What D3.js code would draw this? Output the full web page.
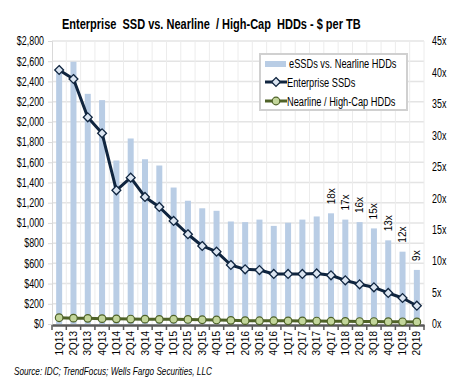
<!DOCTYPE html>
<html><head><meta charset="utf-8">
<script src="https://cdn.jsdelivr.net/npm/d3@7"></script>
<style>
body{margin:0;background:#fff;}
svg{display:block;}
</style></head>
<body>
<svg id="c" width="458" height="384"></svg>
<script>
const quarters = ["1Q13","2Q13","3Q13","4Q13","1Q14","2Q14","3Q14","4Q14","1Q15","2Q15","3Q15","4Q15","1Q16","2Q16","3Q16","4Q16","1Q17","2Q17","3Q17","4Q17","1Q18","2Q18","3Q18","4Q18","1Q19","2Q19"];
const ssd = [2513,2424,2045,1887,1323,1448,1257,1158,1020,888,772,716,584,541,534,495,495,495,500,482,432,393,363,307,257,181];
const hdd = [62,58,56,53,51,49,48,46,47,45,42,40,36,33,32,32,31,30,29,27,26,24,24,23,22,21];
const ratio = [40.5,41.7,36.6,35.6,26.0,29.5,26.2,25.2,21.7,19.6,18.4,18.0,16.3,16.2,16.6,15.6,16.1,16.6,17.1,17.6,16.6,16.2,15.2,13.3,11.5,8.6];
const ratioLabels = ["","","","","","","","","","","","","","","","","","","","18x","17x","16x","15x","13x","12x","9x"];
const leftTicks = [0,200,400,600,800,1000,1200,1400,1600,1800,2000,2200,2400,2600,2800];
const rightTicks = [0,5,10,15,20,25,30,35,40,45];

const svg = d3.select("#c");
const L = 52, R = 424, T = 41, B = 324;
const arial = "'Liberation Sans',Arial,sans-serif";

function squeeze(sel, factor) {
  sel.each(function() {
    const w = this.getComputedTextLength();
    d3.select(this).attr("textLength", w * factor).attr("lengthAdjust", "spacingAndGlyphs");
  });
}

const x = d3.scaleBand().domain(quarters).range([L, R]);
const y = d3.scaleLinear().domain([0, 2800]).range([B, T]);
const y2 = d3.scaleLinear().domain([0, 45]).range([B, T]);

// gridlines
const g = svg.append("g");
g.selectAll("line.h").data(leftTicks.slice(1)).join("line")
  .attr("x1", L).attr("x2", R).attr("y1", d => y(d)).attr("y2", d => y(d))
  .attr("stroke", "#e4e4e4").attr("stroke-width", 1.5);
g.selectAll("line.v").data(quarters.slice(1)).join("line")
  .attr("x1", d => x(d)).attr("x2", d => x(d)).attr("y1", T).attr("y2", B)
  .attr("stroke", "#ececec").attr("stroke-width", 1);
g.append("line").attr("x1", R).attr("x2", R).attr("y1", T).attr("y2", B).attr("stroke", "#ececec");

// bars
const bw = 6;
svg.append("g").selectAll("rect").data(quarters).join("rect")
  .attr("x", d => x(d) + x.bandwidth()/2 - bw/2)
  .attr("width", bw)
  .attr("y", (d,i) => y2(ratio[i]))
  .attr("height", (d,i) => B - y2(ratio[i]))
  .attr("fill", "#b9cde5");

// bar labels
svg.append("g").selectAll("text").data(quarters).join("text")
  .attr("transform", (d,i) => `translate(${x(d)+x.bandwidth()/2+3.5},${y2(ratio[i]) - 9}) rotate(-90)`)
  .attr("font-family", arial).attr("font-size", 10).attr("fill", "#000")
  .text((d,i) => ratioLabels[i]);

// left axis
const ya = d3.axisLeft(y).tickValues(leftTicks).tickSize(4).tickFormat(d => "$" + d3.format(",")(d));
const yag = svg.append("g").attr("transform", `translate(${L},0)`).call(ya);
yag.select(".domain").attr("stroke", "#d9d9d9");
yag.selectAll(".tick line").attr("stroke", "#d9d9d9");
const ylt = yag.selectAll("text").attr("font-family", arial).attr("font-size", 12).attr("fill", "#000").attr("x", -8);
squeeze(ylt, 0.74);

// right axis
const yb = d3.axisRight(y2).tickValues(rightTicks).tickSize(0).tickFormat(d => d + "x");
const ybg = svg.append("g").attr("transform", `translate(${R},0)`).call(yb);
ybg.select(".domain").remove();
const yrt = ybg.selectAll("text").attr("font-family", arial).attr("font-size", 12).attr("fill", "#000").attr("x", 8);
squeeze(yrt, 0.74);

// bottom axis
const xa = d3.axisBottom(x).tickSize(0);
const xag = svg.append("g").attr("transform", `translate(0,${B+1})`).call(xa);
xag.select(".domain").attr("stroke", "#595959").attr("stroke-width", 2.5);
xag.selectAll("text").attr("font-family", arial).attr("font-size", 10).attr("fill", "#000")
  .attr("transform", "rotate(-90)").attr("text-anchor", "end").attr("x", -6).attr("y", 0).attr("dy", "0.35em");
svg.append("g").selectAll("line").data(quarters.concat(["end"])).join("line")
  .attr("x1", d => d === "end" ? R : x(d)).attr("x2", d => d === "end" ? R : x(d))
  .attr("y1", B+1).attr("y2", B+6).attr("stroke", "#595959").attr("stroke-width", 1.5);

// lines
const cx = d => x(d) + x.bandwidth()/2;
const lineSSD = d3.line().x((d,i) => cx(quarters[i])).y(d => y(d));
svg.append("path").datum(ssd).attr("d", lineSSD).attr("fill", "none")
  .attr("stroke", "#10253f").attr("stroke-width", 3).attr("stroke-linejoin", "round");
const diamond = d3.symbol().type(d3.symbolDiamond2).size(50);
svg.append("g").selectAll("path").data(ssd).join("path")
  .attr("d", diamond)
  .attr("transform", (d,i) => `translate(${cx(quarters[i])},${y(d)})`)
  .attr("fill", "#dbe5f1").attr("stroke", "#10253f").attr("stroke-width", 1.3);

const lineHDD = d3.line().x((d,i) => cx(quarters[i])).y(d => y(d));
svg.append("path").datum(hdd).attr("d", lineHDD).attr("fill", "none")
  .attr("stroke", "#4f6228").attr("stroke-width", 3);
svg.append("g").selectAll("circle").data(hdd).join("circle")
  .attr("cx", (d,i) => cx(quarters[i])).attr("cy", d => y(d)).attr("r", 3.8)
  .attr("fill", "#c3d69b").attr("stroke", "#4f6228").attr("stroke-width", 1.2);

// legend
const lg = svg.append("g");
lg.append("rect").attr("x", 260).attr("y", 54).attr("width", 147).attr("height", 56)
  .attr("fill", "#fff").attr("stroke", "#d0d0d0").attr("stroke-width", 2);
lg.append("rect").attr("x", 265).attr("y", 61).attr("width", 21).attr("height", 6).attr("fill", "#b9cde5");
lg.append("line").attr("x1", 265).attr("x2", 287).attr("y1", 82).attr("y2", 82).attr("stroke", "#10253f").attr("stroke-width", 3);
lg.append("path").attr("d", diamond).attr("transform", "translate(276,82)").attr("fill", "#dbe5f1").attr("stroke", "#10253f").attr("stroke-width", 1.3);
lg.append("line").attr("x1", 265).attr("x2", 287).attr("y1", 101).attr("y2", 101).attr("stroke", "#4f6228").attr("stroke-width", 3);
lg.append("circle").attr("cx", 276).attr("cy", 101).attr("r", 3.8).attr("fill", "#c3d69b").attr("stroke", "#4f6228").attr("stroke-width", 1.2);
const legendTexts = ["eSSDs vs. Nearline HDDs", "Enterprise SSDs", "Nearline / High-Cap HDDs"];
const lt = lg.selectAll("text").data(legendTexts).join("text")
  .attr("x", (d,i) => i === 0 ? 289 : 287).attr("y", (d,i) => 68 + i*19)
  .attr("font-family", arial).attr("font-size", 12.5).attr("fill", "#000").text(d => d);
squeeze(lt, 0.74);

// title (compressed horizontally to mimic a narrow bold face)
const title = svg.append("text").attr("x", 0).attr("y", 0)
  .attr("font-family", arial).attr("font-weight", "bold").attr("font-size", 15).attr("fill", "#000")
  .attr("xml:space", "preserve")
  .text("Enterprise  SSD vs. Nearline  / High-Cap  HDDs - $ per TB");
const tw = title.node().getComputedTextLength();
title.attr("transform", `translate(62,29) scale(${299 / tw},1)`);

// source
const src = svg.append("text").attr("x", 0).attr("y", 0)
  .attr("font-family", arial).attr("font-style", "italic").attr("font-size", 11).attr("fill", "#000")
  .text("Source: IDC; TrendFocus; Wells Fargo Securities, LLC");
const sw = src.node().getComputedTextLength();
src.attr("transform", `translate(14,375) scale(${198 / sw},1)`);
</script>
</body></html>
